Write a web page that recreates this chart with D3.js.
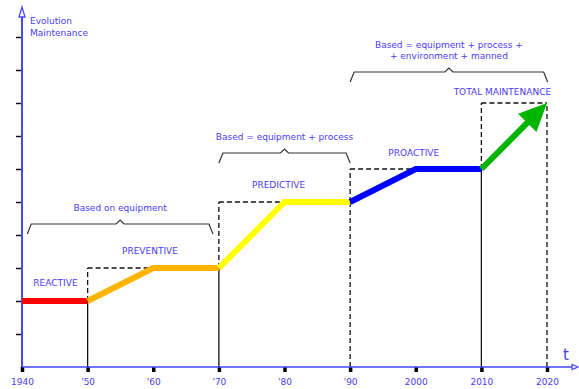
<!DOCTYPE html>
<html>
<head>
<meta charset="utf-8">
<script src="https://cdn.jsdelivr.net/npm/d3@7"></script>
<style>
  html, body { margin: 0; padding: 0; background: #fff; }
  svg { display: block; }
  text { font-family: "DejaVu Sans", Verdana, sans-serif; }
</style>
</head>
<body>
<svg id="chart" width="579" height="389"></svg>
<script>
// Decade ticks on the time axis
const tickYears = [1940, 1950, 1960, 1970, 1980, 1990, 2000, 2010, 2020];
const tickLabels = ["1940", "'50", "'60", "'70", "'80", "'90", "2000", "2010", "2020"];

// Maintenance evolution level reached at each decade
const pathYears  = [1940, 1950, 1960, 1970, 1980, 1990, 2000, 2010, 2020];
const pathLevels = [2, 2, 3, 3, 5, 5, 6, 6, 8];

// Maintenance phases: first/last index into the path, colour, name
const phaseNames  = ["REACTIVE", "PREVENTIVE", "PREDICTIVE", "PROACTIVE", "TOTAL MAINTENANCE"];
const phaseFrom   = [0, 1, 3, 5, 7];
const phaseTo     = [1, 3, 5, 7, 8];
const phaseColors = ["#ff0000", "#ffb400", "#ffff00", "#0000ff", "#00b400"];

// Braces grouping the phases by what the maintenance is based on
const braceStart = [1940.8, 1970, 1990];
const braceEnd   = [1969.1, 1990, 2020.1];
const braceText  = [
  ["Based on equipment"],
  ["Based = equipment + process"],
  ["Based = equipment + process +", "+ environment + manned"]
];

const svg = d3.select("#chart");
const blue = "#4a3cf6";
const axisBlue = "#4646ff";

const x = d3.scaleLinear().domain([1940, 2020]).range([22, 547]);
const y = d3.scaleLinear().domain([0, 10]).range([367, 37]);

// ---- guide lines (solid below the previous level, dashed above) ----
const guides = svg.append("g").attr("fill", "none").attr("stroke", "#111").attr("stroke-width", 1.3);
function guide(x1, y1, x2, y2, dashed) {
  guides.append("line")
    .attr("x1", x(x1)).attr("y1", y(y1)).attr("x2", x(x2)).attr("y2", y(y2))
    .attr("stroke-dasharray", dashed ? "5,3" : null);
}
// each step: base year, plateau year, level below, level above
const stepYears = [1950, 1970, 1990, 2010];
const stepEnds  = [1960, 1980, 2000, 2020];
const stepLow   = [2, 3, 5, 6];
const stepHigh  = [3, 5, 6, 8];
stepYears.forEach((yr, i) => {
  guide(yr, 0, yr, stepLow[i], yr === 1990);
  guide(yr, stepLow[i], yr, stepHigh[i], true);
  guide(yr, stepHigh[i], stepEnds[i], stepHigh[i], true);
});
guide(2020, 0, 2020, 8, true);

// ---- axes ----
const yAxis = d3.axisLeft(y).tickValues(d3.range(1, 11)).tickSize(6).tickFormat("");
const gy = svg.append("g").attr("transform", `translate(${x(1940)},0)`).call(yAxis);
gy.select(".domain").remove();
gy.selectAll(".tick line").attr("stroke", "#111").attr("stroke-width", 1.5);

const xAxis = d3.axisBottom(x).tickValues(tickYears).tickSize(5)
  .tickFormat((d, i) => tickLabels[i]);
const gx = svg.append("g").attr("transform", `translate(0,${y(0)})`).call(xAxis);
gx.select(".domain").remove();
gx.selectAll(".tick line").attr("stroke", "#000").attr("stroke-width", 3.5);
gx.selectAll(".tick text").attr("fill", blue).attr("font-size", 9)
  .attr("font-family", "DejaVu Sans").attr("dy", "0.9em").attr("y", 10);

// axis lines with open arrow heads
svg.append("line").attr("x1", x(1940)).attr("y1", y(0)).attr("x2", x(1940)).attr("y2", 17)
  .attr("stroke", axisBlue).attr("stroke-width", 2);
svg.append("path").attr("d", `M${x(1940)},7 L${x(1940) - 3},17 L${x(1940) + 3},17 Z`)
  .attr("fill", "#fff").attr("stroke", axisBlue).attr("stroke-width", 1.3);
svg.append("line").attr("x1", x(1940)).attr("y1", y(0)).attr("x2", 572).attr("y2", y(0))
  .attr("stroke", axisBlue).attr("stroke-width", 1.5);
svg.append("path").attr("d", `M578,${y(0)} L572,${y(0) - 2.5} L572,${y(0) + 2.5} Z`)
  .attr("fill", "#fff").attr("stroke", axisBlue).attr("stroke-width", 1.2);

svg.append("text").attr("x", 30).attr("y", 24).attr("fill", blue).attr("font-size", 9).text("Evolution");
svg.append("text").attr("x", 30).attr("y", 36).attr("fill", blue).attr("font-size", 9).text("Maintenance");
svg.append("text").attr("x", 563).attr("y", 360).attr("fill", blue).attr("font-size", 15).text("t");

// ---- evolution path, one polyline per phase ----
const line = d3.line().x(d => x(d[0])).y(d => y(d[1]));
phaseNames.forEach((name, p) => {
  const pts = d3.range(phaseFrom[p], phaseTo[p] + 1).map(i => [pathYears[i], pathLevels[i]]);
  const last = p === phaseNames.length - 1;
  if (last) {
    // final phase ends in an arrow head
    const [a, b] = [pts[0], pts[pts.length - 1]];
    const x0 = x(a[0]), y0 = y(a[1]), x1 = x(b[0]), y1 = y(b[1]);
    const len = Math.hypot(x1 - x0, y1 - y0);
    const ux = (x1 - x0) / len, uy = (y1 - y0) / len;
    const head = 28, half = 13;
    const bx = x1 - ux * head, by = y1 - uy * head;
    svg.append("line").attr("x1", x0).attr("y1", y0).attr("x2", bx + ux * 2).attr("y2", by + uy * 2)
      .attr("stroke", phaseColors[p]).attr("stroke-width", 6);
    svg.append("path")
      .attr("d", `M${x1},${y1} L${bx - uy * half},${by + ux * half} L${bx + uy * half},${by - ux * half} Z`)
      .attr("fill", phaseColors[p]);
  } else {
    svg.append("path").attr("d", line(pts)).attr("fill", "none")
      .attr("stroke", phaseColors[p]).attr("stroke-width", 6)
      .attr("stroke-linejoin", "miter").attr("stroke-linecap", "butt");
  }
});

// ---- phase names ----
const labelYear  = [1945.1, 1959.5, 1979.1, 1999.7, 2013.2];
const labelLevel = [2.45, 3.42, 5.42, 6.4, 8.25];
phaseNames.forEach((name, p) => {
  svg.append("text").attr("x", x(labelYear[p])).attr("y", y(labelLevel[p]))
    .attr("text-anchor", "middle").attr("fill", blue).attr("font-size", 9).text(name);
});

// ---- braces ----
const braceTop = [224, 153, 72];
braceStart.forEach((s, i) => {
  const x0 = x(s), x1 = x(braceEnd[i]), xm = (x0 + x1) / 2, t = braceTop[i];
  svg.append("path")
    .attr("d", `M${x0},${t + 10} L${x0 + 4},${t} L${xm - 4},${t} L${xm},${t - 4} L${xm + 4},${t} L${x1 - 4},${t} L${x1},${t + 10}`)
    .attr("fill", "none").attr("stroke", "#333").attr("stroke-width", 1.2);
  const lines = braceText[i];
  lines.forEach((txt, k) => {
    svg.append("text").attr("x", xm)
      .attr("y", t - 13 - (lines.length - 1 - k) * 11)
      .attr("text-anchor", "middle").attr("fill", blue).attr("font-size", 9).text(txt);
  });
});
</script>
</body>
</html>
